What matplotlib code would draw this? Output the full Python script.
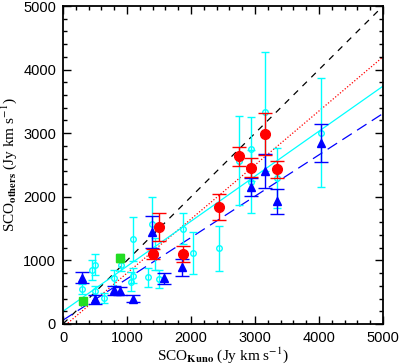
import numpy as np
import matplotlib
matplotlib.use("Agg")
import matplotlib.pyplot as plt
from matplotlib.ticker import MultipleLocator

plt.rcParams["mathtext.fontset"] = "stix"

# fluxes (Jy km s^-1)
red_x = [1400, 1500, 1870, 2440, 2755, 2940, 3150, 3345]
red_y = [1100, 1520, 1100, 1840, 2640, 2460, 2980, 2430]
red_err = [80, 220, 130, 200, 150, 150, 330, 140]

blue_x = [300, 505, 790, 890, 1100, 1390, 1580, 1865, 2940, 3150, 3345, 4030]
blue_y = [730, 390, 530, 520, 400, 1450, 715, 890, 2150, 2410, 1930, 2840]
blue_err = [80, 70, 70, 60, 50, 250, 90, 130, 140, 270, 200, 300]

green_x = [305, 890]
green_y = [365, 1040]
green_err = [40, 60]

cyan_x = [300, 460, 495, 500, 645, 790, 900, 1060, 1100, 1100, 1325, 1390, 1430,
          1500, 1870, 2030, 2430, 2755, 2940, 2940, 3150, 3345, 4030]
cyan_y = [545, 845, 935, 525, 410, 725, 925, 665, 760, 1335, 735, 1570, 1100,
          705, 1500, 1120, 1190, 2565, 2750, 2240, 3340, 2290, 3010]
cyan_err = [80, 160, 170, 70, 80, 130, 100, 150, 120, 350, 150, 420, 250,
            140, 250, 330, 350, 700, 500, 500, 930, 470, 860]

# fitted relations
fit_red = (0.85, -50)
fit_cyan = (0.708, 200)
fit_blue = (0.65, 60)

fig = plt.figure(figsize=(3.99, 3.64), dpi=100)
ax = fig.add_axes([0.158, 0.11, 0.802, 0.8735])

xx = np.array([0, 5000])
ax.plot(xx, xx, color="black", ls=(0, (5, 5)), lw=0.9, zorder=1)
ax.plot(xx, fit_red[0] * xx + fit_red[1], color="red", ls=(0, (1, 1.5)), lw=0.9, zorder=1)
ax.plot(xx, fit_cyan[0] * xx + fit_cyan[1], color="cyan", ls="-", lw=0.9, zorder=1)
ax.plot(xx, fit_blue[0] * xx + fit_blue[1], color="blue", ls=(0, (9, 5)), lw=0.9, zorder=1)

ax.errorbar(cyan_x, cyan_y, yerr=cyan_err, fmt="o", ms=4, mfc="none", mec="cyan",
            mew=1, ecolor="cyan", elinewidth=1, capsize=3, capthick=1, zorder=2)
ax.errorbar(blue_x, blue_y, yerr=blue_err, fmt="^", ms=5.5, color="blue",
            ecolor="blue", elinewidth=1, capsize=5, capthick=1, zorder=3)
ax.errorbar(red_x, red_y, yerr=red_err, fmt="o", ms=7, color="red",
            ecolor="red", elinewidth=1, capsize=5, capthick=1, zorder=4)
ax.errorbar(green_x, green_y, yerr=green_err, fmt="s", ms=5.5, color="#22dd22",
            ecolor="#22dd22", elinewidth=1, capsize=3, capthick=1, zorder=4)

ax.set_xlim(0, 5000)
ax.set_ylim(0, 5000)
ax.xaxis.set_major_locator(MultipleLocator(1000))
ax.yaxis.set_major_locator(MultipleLocator(1000))
ax.xaxis.set_minor_locator(MultipleLocator(200))
ax.yaxis.set_minor_locator(MultipleLocator(200))
ax.tick_params(which="both", direction="in", top=True, right=True, width=1)
ax.tick_params(which="major", length=6, labelsize=10.5, pad=5)
ax.tick_params(which="minor", length=3)
for lab in ax.get_xticklabels() + ax.get_yticklabels():
    lab.set_family("Liberation Sans")
for s in ax.spines.values():
    s.set_linewidth(1.3)

ax.set_xlabel(r"SCO$_{\mathbf{Kuno}}$ (Jy km s$^{-1}$)", family="Liberation Serif",
              fontsize=11, labelpad=0)
ax.set_ylabel(r"SCO$_{\mathbf{others}}$ (Jy km s$^{-1}$)", family="Liberation Serif",
              fontsize=11, labelpad=3)

fig.savefig("out.png", dpi=100)
